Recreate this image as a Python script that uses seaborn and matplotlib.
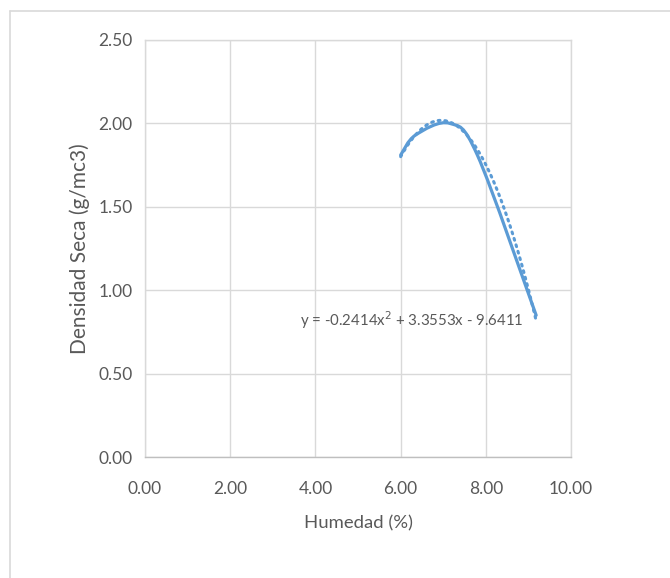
import numpy as np
import pandas as pd
import matplotlib
matplotlib.use("Agg")
import matplotlib.pyplot as plt
from matplotlib.path import Path
from matplotlib.patches import PathPatch
import seaborn as sns

# data
humedad = [6.00, 6.35, 7.15, 7.80, 9.18]
densidad = [1.81, 1.93, 2.00, 1.81, 0.85]
# polynomial trendline shown on the chart: a*x^2 + b*x + c
trend_coef = [-0.2414, 3.3553, -9.6411]
x_ticks = [0, 2, 4, 6, 8, 10]
y_ticks = [0.0, 0.5, 1.0, 1.5, 2.0, 2.5]

BLUE = "#5B9BD5"
GRID = "#d9d9d9"
TXT = "#595959"

sns.set_theme(style="white")
plt.rcParams["font.family"] = ["Lato", "DejaVu Sans"]

df = pd.DataFrame({"x": humedad, "y": densidad})
xs = np.linspace(min(humedad), max(humedad), 200)
trend = pd.DataFrame({"x": xs, "y": np.polyval(trend_coef, xs)})

fig = plt.figure(figsize=(6.7, 5.78), dpi=100)
ax = fig.add_axes([0.2164, 0.209, 0.636, 0.722])

# dotted polynomial trendline
sns.lineplot(data=trend, x="x", y="y", ax=ax, color=BLUE, lw=2.2,
             linestyle=(0, (0.6, 1.6)), dash_capstyle="round")

# Excel-style smoothed line through the points (Catmull-Rom as bezier)
pts = df[["x", "y"]].to_numpy()
verts = [pts[0]]
codes = [Path.MOVETO]
n = len(pts)
for i in range(n - 1):
    p0 = pts[max(i - 1, 0)]
    p1 = pts[i]
    p2 = pts[i + 1]
    p3 = pts[min(i + 2, n - 1)]
    verts += [p1 + (p2 - p0) / 6, p2 - (p3 - p1) / 6, p2]
    codes += [Path.CURVE4] * 3
ax.add_patch(PathPatch(Path(verts, codes), fill=False, edgecolor=BLUE,
                       lw=2.3, capstyle="round", joinstyle="round"))

ax.set_xlim(0, 10)
ax.set_ylim(0, 2.5)
ax.set_xticks(x_ticks)
ax.set_yticks(y_ticks)
ax.set_xticklabels([f"{v:.2f}" for v in x_ticks])
ax.set_yticklabels([f"{v:.2f}" for v in y_ticks])
ax.tick_params(axis="both", length=0, labelsize=12.5, colors=TXT)
ax.tick_params(axis="x", pad=17)
ax.tick_params(axis="y", pad=9)
ax.grid(True, color=GRID, lw=1)
for s in ax.spines.values():
    s.set_color(GRID)
    s.set_linewidth(1)
ax.spines["bottom"].set_color("#bfbfbf")

ax.set_xlabel("Humedad (%)", fontsize=13.3, color=TXT, labelpad=13)
ax.set_ylabel("Densidad Seca (g/mc3)", fontsize=15, color=TXT, labelpad=6)

ax.text(6.25, 0.82, "y = -0.2414x$^{2}$ + 3.3553x - 9.6411", ha="center",
        va="center", fontsize=10.8, color=TXT)

# chart border (top and left visible)
fig.add_artist(plt.Line2D([10 / 670, 1], [1 - 11 / 578] * 2, color=GRID, lw=1.2))
fig.add_artist(plt.Line2D([10 / 670] * 2, [0, 1 - 11 / 578], color=GRID, lw=1.2))

fig.savefig("out.png", dpi=100)
